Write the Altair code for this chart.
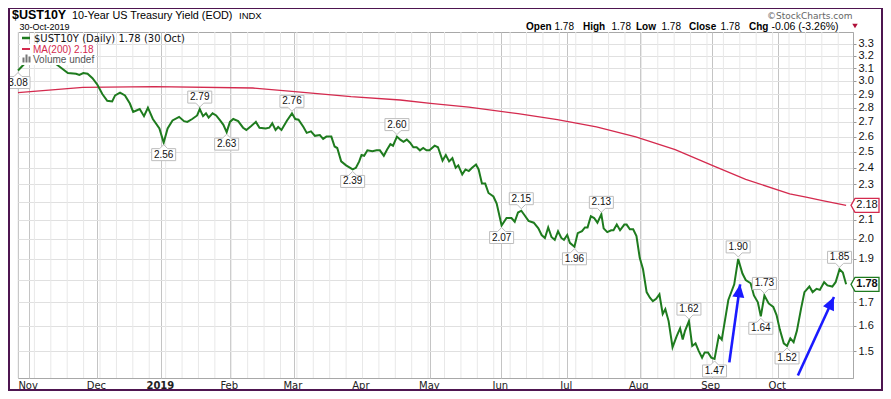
import altair as alt
import pandas as pd

# ---------------- data ----------------
# x = trading-day index (0 = first bar of the one-year window)
yld_idx = [0, 2.2, 4, 6, 8, 10, 11.7, 13.2, 15.2, 17.7, 18.7, 19.9, 21.2, 22.7, 24.2, 25.7,
           27.2, 28.7, 29.6, 31.1, 32.6, 34.1, 35.1, 36.1, 37.1, 38.4, 39.6, 41.1, 43.1, 44.4,
           45.6, 47.1, 49.1, 50.6, 51.6, 53.1, 54.6, 55.4, 56.4, 57.3, 58.1, 59.3, 60.4, 61.6,
           62.6, 63.6, 64.6, 65.6, 67.1, 68.6, 69.6, 71.0, 72.5, 73.6, 75.5, 76.6, 77.5, 78.5,
           79.3, 80.3, 82.0, 83.5, 84.5, 85.5, 87.0, 88.0, 89.3, 90.5, 92.0, 93.0, 94.0, 95.5,
           96.5, 97.3, 98.5, 100.0, 102.0, 103.0, 104.0, 104.7, 105.5, 106.5, 108.0, 109.3,
           110.3, 111.5, 112.5, 113.5, 114.3, 115.5, 116.5, 117.5, 118.5, 119.5, 120.5, 121.5,
           122.5, 123.5, 124.5, 125.4, 127.0, 128.0, 129.4, 130.4, 131.4, 132.4, 133.4, 134.2,
           135.4, 136.4, 137.4, 138.4, 139.6, 140.4, 141.4, 142.4, 143.4, 144.9, 145.9, 147.4,
           148.9, 150.4, 151.4, 152.4, 153.4, 154.4, 155.6, 157.2, 158.6, 159.6, 160.6, 161.6,
           162.6, 163.6, 164.6, 165.6, 166.4, 167.4, 168.2, 169.6, 170.6, 171.9, 172.8, 173.6,
           174.6, 175.6, 176.6, 177.8, 178.5, 179.6, 180.8, 181.5, 182.5, 183.5, 184.8, 185.5,
           186.5, 187.5, 188.5, 189.5, 190.5, 191.6, 192.6, 193.5, 194.5, 195.5, 196.5, 197.3,
           198.3, 199.5, 200.8, 201.8, 202.6, 203.3, 204.5, 205.5, 206.5, 207.5, 208.5, 209.3,
           210.3, 211.3, 212.3, 213.6, 214.5, 215.5, 216.5, 218.3, 219.5, 220.8, 221.8, 223.3,
           224.3, 225.5, 226.4, 227.5, 228.8, 230.2, 231.2, 232.2, 233.4, 234.4, 235.4, 236.4,
           237.4, 238.7, 239.7, 241.2, 242.2, 243.4, 244.4, 245.7, 246.7, 248.2, 249.2, 250.4,
           251.4, 252.4]
yld_val = [3.08, 3.14, 3.19, 3.23, 3.21, 3.17, 3.13, 3.10, 3.06, 3.055, 3.045, 3.06, 3.055, 3.02,
           2.97, 2.90, 2.85, 2.845, 2.89, 2.91, 2.89, 2.83, 2.77, 2.78, 2.79, 2.74, 2.80, 2.72,
           2.655, 2.56, 2.655, 2.71, 2.735, 2.705, 2.70, 2.72, 2.745, 2.79, 2.74, 2.76, 2.73,
           2.76, 2.745, 2.71, 2.68, 2.63, 2.70, 2.72, 2.705, 2.66, 2.645, 2.67, 2.70, 2.66,
           2.655, 2.66, 2.69, 2.645, 2.665, 2.645, 2.71, 2.76, 2.72, 2.715, 2.665, 2.625, 2.635,
           2.605, 2.61, 2.585, 2.60, 2.60, 2.535, 2.525, 2.44, 2.415, 2.39, 2.40, 2.44, 2.48,
           2.475, 2.51, 2.505, 2.51, 2.51, 2.475, 2.515, 2.55, 2.54, 2.60, 2.58, 2.565, 2.58,
           2.56, 2.53, 2.53, 2.51, 2.525, 2.51, 2.51, 2.54, 2.53, 2.445, 2.48, 2.44, 2.46, 2.40,
           2.415, 2.36, 2.39, 2.38, 2.40, 2.42, 2.39, 2.305, 2.305, 2.25, 2.23, 2.19, 2.07,
           2.11, 2.11, 2.09, 2.14, 2.15, 2.125, 2.095, 2.085, 2.055, 2.02, 2.005, 2.06, 2.01,
           1.995, 2.04, 2.005, 1.995, 2.02, 1.98, 1.96, 2.03, 2.04, 2.06, 2.06, 2.12, 2.11,
           2.085, 2.13, 2.055, 2.035, 2.045, 2.045, 2.075, 2.045, 2.075, 2.075, 2.05, 2.05,
           2.015, 1.905, 1.85, 1.745, 1.72, 1.705, 1.715, 1.735, 1.65, 1.67, 1.62, 1.515, 1.56,
           1.59, 1.545, 1.58, 1.62, 1.52, 1.53, 1.50, 1.475, 1.495, 1.495, 1.475, 1.47, 1.56,
           1.545, 1.625, 1.71, 1.78, 1.90, 1.83, 1.80, 1.785, 1.73, 1.70, 1.64, 1.73, 1.695,
           1.68, 1.645, 1.585, 1.53, 1.52, 1.55, 1.535, 1.58, 1.675, 1.745, 1.77, 1.745, 1.76,
           1.755, 1.79, 1.775, 1.77, 1.79, 1.85, 1.835, 1.78]

ma_idx = [0, 19.8, 41.6, 71.6, 83.5, 101.5, 116.5, 125.7, 137.4, 152.4, 164.4, 176.3, 188.3,
          200.3, 212.3, 221.8, 235.2, 240.2, 245.2, 252.4]
ma_val = [2.91, 2.95, 2.955, 2.945, 2.92, 2.88, 2.856, 2.832, 2.804, 2.758, 2.715, 2.665, 2.598,
          2.514, 2.409, 2.33, 2.245, 2.226, 2.207, 2.18]

lab_idx = [0, 44.4, 55.4, 63.6, 83.5, 102.0, 115.5, 147.4, 153.4, 169.6, 177.8, 204.5,
           212.3, 219.5, 226.4, 227.5, 234.4, 250.4]
lab_val = [3.08, 2.56, 2.79, 2.63, 2.76, 2.39, 2.60, 2.07, 2.15, 1.96, 2.13, 1.62,
           1.47, 1.90, 1.64, 1.73, 1.52, 1.85]
lab_side = ["below", "below", "above", "below", "above", "below", "above", "below", "above",
            "below", "above", "above", "below", "above", "below", "above", "below", "above"]

arrow_from_idx = [216.8, 237.7]
arrow_from_val = [1.457, 1.409]
arrow_to_idx = [220.1, 248.7]
arrow_to_val = [1.78, 1.723]
arrow_angle = [8, 25]

month_pos = [3.4, 24.2, 43.7, 64.7, 84.1, 104.8, 125.7, 147.3, 167.4, 189.5, 211.4, 231.7]
month_names = ["Nov", "Dec", "2019", "Feb", "Mar", "Apr", "May", "Jun", "Jul", "Aug", "Sep", "Oct"]
week_pos = list(range(0, 255, 5))

y_ticks = [1.5, 1.6, 1.7, 1.8, 1.9, 2.0, 2.1, 2.2, 2.3, 2.4, 2.5, 2.6, 2.7, 2.8, 2.9,
           3.0, 3.1, 3.2, 3.3]
y_hidden = [1.8, 2.2]   # axis labels covered by the last-value boxes

# ---------------- styling ----------------
W, H = 835, 346
GREEN = "#1e7b1e"
RED = "#d42a4e"
BLUE = "#1a1aff"
PURPLE = "#4e1550"

hide_expr = " || ".join(f"abs(datum.value - {v}) < 0.001" for v in y_hidden)

XS = alt.Scale(domain=[0, 254.5], nice=False, zero=False)
YS = alt.Scale(type="log", domain=[1.4, 3.4], nice=False)
XA = alt.Axis(values=month_pos, grid=True, gridColor="#c4c4c4", labels=False, ticks=False,
              domain=False, title=None)
YA = alt.Axis(orient="right", values=y_ticks, grid=True, gridColor="#e0e0e0",
              labelExpr=f"({hide_expr}) ? '' : format(datum.value, '.1f')",
              labelFont="Liberation Sans", labelFontSize=11, labelColor="#111", tickSize=3,
              tickColor="#999", domain=True, domainColor="#aaa", domainDash=[1, 2],
              labelPadding=2, title=None)


def X(f):
    return alt.X(f, type="quantitative", scale=XS, axis=XA)


def Y(f):
    return alt.Y(f, type="quantitative", scale=YS, axis=YA)


one = pd.DataFrame({"k": [0]})


def txt(s, px, py, size, weight="normal", color="#000", font="Liberation Sans", align="left"):
    return alt.Chart(pd.DataFrame({"t": [s]})).mark_text(
        align=align, baseline="alphabetic", font=font, fontSize=size, fontWeight=weight,
        color=color).encode(x=alt.value(px), y=alt.value(py), text="t:N")


yld = pd.DataFrame({"idx": yld_idx, "val": yld_val})
ma = pd.DataFrame({"idx": ma_idx, "val": ma_val})
labs = pd.DataFrame({"idx": lab_idx, "val": lab_val, "side": lab_side,
                     "txt": [f"{v:.2f}" for v in lab_val]})
arrows = pd.DataFrame({"x1": arrow_from_idx, "y1": arrow_from_val, "x2": arrow_to_idx,
                       "y2": arrow_to_val, "ang": arrow_angle})
months = pd.DataFrame({"pos": month_pos, "name": month_names})
weeks = pd.DataFrame({"w": week_pos})
last = pd.DataFrame({"val": [ma_val[-1], yld_val[-1]], "kind": ["ma", "px"],
                     "txt": [f"{ma_val[-1]:.2f}", f"{yld_val[-1]:.2f}"]})

layers = []

# weekly light grid
layers.append(alt.Chart(weeks).mark_rule(color="#e8e8e8", strokeWidth=1).encode(x=X("w")))

# moving average and price line
layers.append(alt.Chart(ma).mark_line(color=RED, strokeWidth=1.3).encode(x=X("idx"), y=Y("val")))
layers.append(alt.Chart(yld).mark_line(color=GREEN, strokeWidth=2).encode(x=X("idx"), y=Y("val")))

# legend backgrounds (hide the line behind the legend rows)
layers.append(alt.Chart(one).mark_rect(color="white").encode(
    x=alt.value(2), x2=alt.value(78), y=alt.value(12), y2=alt.value(33)))

# arrows
layers.append(alt.Chart(arrows).mark_rule(color=BLUE, strokeWidth=2.6, strokeCap="butt").encode(
    x=X("x1"), y=Y("y1"), x2="x2", y2="y2"))
layers.append(alt.Chart(arrows).mark_point(
    shape="M0,0L6,13L-6,13Z", size=4, filled=True, color=BLUE, opacity=1).encode(
    x=X("x2"), y=Y("y2"), angle=alt.Angle("ang:Q", scale=None)))

# value label boxes
above_path = "M0,-2L-4,-6L-12,-6L-12,-18L12,-18L12,-6L4,-6Z"
below_path = "M0,2L-4,6L-12,6L-12,18L12,18L12,6L4,6Z"
for side, path, dy in [("above", above_path, -12), ("below", below_path, 12)]:
    base = alt.Chart(labs).transform_filter(alt.datum.side == side)
    layers.append(base.mark_point(shape=path, size=4, filled=True, fill="white",
                                  stroke="#bdbdbd", strokeWidth=1, opacity=1).encode(
        x=X("idx"), y=Y("val")))
    layers.append(base.mark_text(dy=dy, baseline="middle", align="center",
                                 font="Liberation Sans", fontSize=10, color="#111").encode(
        x=X("idx"), y=Y("val"), text="txt:N"))

# last-value boxes on the right axis
rbox = "M0,0L4,-7L28,-7L28,7L4,7Z"
for kind, col, wt in [("ma", RED, "normal"), ("px", GREEN, "bold")]:
    base = alt.Chart(last).transform_filter(alt.datum.kind == kind)
    layers.append(base.mark_point(shape=rbox, size=4, filled=True, fill="white", stroke=col,
                                  strokeWidth=1.3, opacity=1).encode(
        x=alt.value(W - 2), y=Y("val")))
    layers.append(base.mark_text(align="center", baseline="middle", font="Liberation Sans",
                                 fontSize=11, fontWeight=wt, color="#111").encode(
        x=alt.value(W + 14), y=Y("val"), text="txt:N"))

# month labels
for flt, wt in [(alt.datum.name != "2019", "normal"), (alt.datum.name == "2019", "bold")]:
    layers.append(alt.Chart(months).transform_filter(flt).mark_text(
        align="center", baseline="top", dx=-1, font="DejaVu Sans", fontSize=10,
        fontWeight=wt, color="#222").encode(x=X("pos"), y=alt.value(H + 3), text="name:N"))

# in-chart legend
layers.append(alt.Chart(one).mark_rule(color=GREEN, strokeWidth=2.5).encode(
    x=alt.value(4), x2=alt.value(12), y=alt.value(6)))
layers.append(alt.Chart(one).mark_rule(color=RED, strokeWidth=2).encode(
    x=alt.value(4), x2=alt.value(12), y=alt.value(17)))
layers.append(alt.Chart(one).mark_point(
    shape="M0,0h2v-5h-2zM3,0h2v-8h-2zM6,0h2v-6h-2z", size=4, filled=True, color="#777",
    opacity=1).encode(x=alt.value(4.5), y=alt.value(30.5)))
layers.append(txt("$UST10Y (Daily) 1.78 (30 Oct)", 16, 10, 10, color="#111",
                  font="DejaVu Sans"))
layers.append(txt("MA(200) 2.18", 15, 21, 10, color=RED))
layers.append(txt("Volume undef", 15, 30.5, 10, color="#555"))

# header
layers.append(txt("$UST10Y", -6, -13, 12.5, weight="bold"))
layers.append(txt("10-Year US Treasury Yield (EOD)", 54, -13, 10.8))
layers.append(txt("INDX", 221, -13, 9.5))
layers.append(txt("30-Oct-2019", 1.5, -2, 9))
layers.append(txt("\u00a9StockCharts.com", W - 0.5, -13.5, 9, color="#666", font="DejaVu Sans",
                  align="right"))
hdr_items = [("Open", 508, "bold"), ("1.78", 536.5, "normal"), ("High", 565, "bold"),
             ("1.78", 593.5, "normal"), ("Low", 618, "bold"), ("1.78", 643.5, "normal"),
             ("Close", 671, "bold"), ("1.78", 702.5, "normal"), ("Chg", 731, "bold"),
             ("-0.06 (-3.26%)", 753.5, "normal")]
for s, px, wt in hdr_items:
    layers.append(txt(s, px, -2.5, 10.5 if s.startswith("-") else 10, weight=wt))
layers.append(alt.Chart(one).mark_point(shape="triangle-down", size=30, filled=True,
                                        color="#b0103a", opacity=1).encode(
    x=alt.value(837), y=alt.value(-6)))

# outer frame
layers.append(alt.Chart(one).mark_rect(fillOpacity=0, stroke=PURPLE, strokeWidth=2).encode(
    x=alt.value(-9), x2=alt.value(W + 29), y=alt.value(-24), y2=alt.value(H + 12)))

chart = alt.layer(*layers).properties(
    width=W, height=H,
    padding={"left": 10, "top": 24, "right": 30, "bottom": 13},
    autosize=alt.AutoSizeParams(type="none"),
).configure(background="white").configure_view(stroke="#a8a8a8", strokeWidth=1)

chart.save("out.html", embed_options={"renderer": "svg", "actions": False})
